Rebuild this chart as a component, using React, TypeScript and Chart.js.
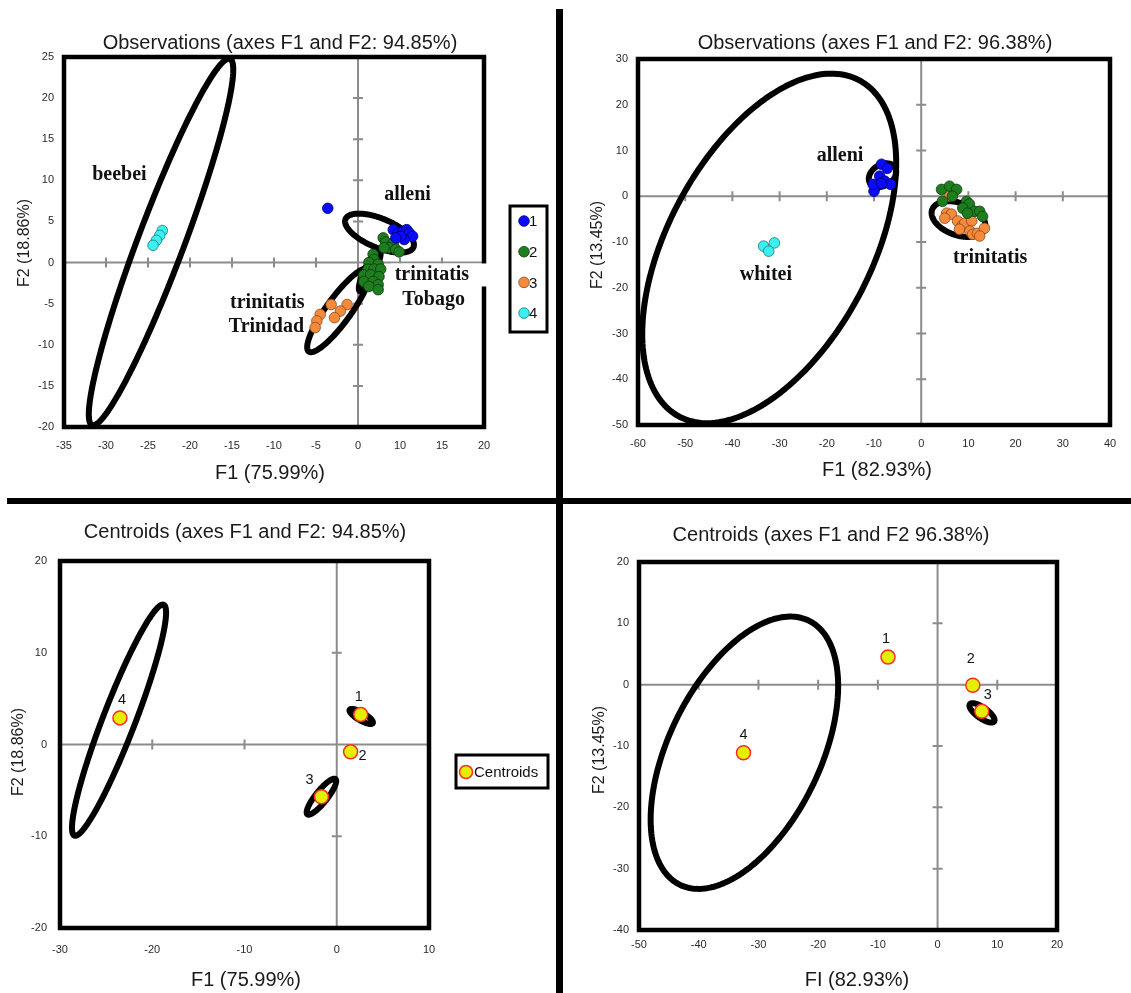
import React, { useEffect, useRef } from "react";
import { Chart, registerables } from "chart.js";

Chart.register(...registerables);

type XY = [number, number];
// ellipse: centre x, centre y, half-extent x, half-extent y, correlation
type Ell = [number, number, number, number, number];

const SANS = '"Liberation Sans", Arial, Helvetica, sans-serif';
const SERIF = '"Liberation Serif", "Times New Roman", serif';

// ---------------- shared categories ----------------
const groupNames = ["1", "2", "3", "4"];
const centroidNames = ["1", "2", "3", "4"];

// ---------------- Panel A : observations (F1 75.99 %, F2 18.86 %) ----------------
const obsA_g1: XY[] = [
  [-3.6, 6.6], [4.2, 4.0], [4.8, 3.6], [5.4, 3.8], [5.8, 4.0], [6.1, 3.6],
  [6.5, 3.2], [5.5, 2.8], [5.1, 3.2], [4.5, 3.0],
];
const obsA_g2: XY[] = [
  [3.0, 3.0], [3.3, 2.5], [4.2, 2.4], [3.7, 1.8], [4.5, 1.6], [4.9, 1.3], [3.1, 1.8],
  [1.8, 1.0], [1.9, 0.4], [1.3, 0.0], [2.4, -0.2], [1.2, -0.8], [1.9, -0.8], [2.7, -0.8],
  [0.7, -1.5], [1.5, -1.5], [2.5, -1.7], [0.7, -2.3], [1.8, -2.3], [2.4, -2.7],
  [1.3, -2.9], [2.4, -3.3],
];
const obsA_g3: XY[] = [
  [-3.2, -5.1], [-1.3, -5.1], [-2.1, -5.9], [-2.8, -6.7], [-4.5, -6.3], [-4.9, -7.1], [-5.1, -7.9],
];
const obsA_g4: XY[] = [[-23.3, 3.9], [-23.6, 3.3], [-24.0, 2.7], [-24.4, 2.1]];
const ellA: Ell[] = [
  [-23.45, 2.5, 8.6, 22.3, 0.94],
  [2.56, 3.58, 4.1, 2.37, -0.6],
  [1.4, -1.0, 1.3, 2.5, 0.85],
  [-2.3, -5.8, 3.75, 5.1, 0.88],
];
const xTicksA = [-35, -30, -25, -20, -15, -10, -5, 0, 5, 10, 15];
const xTickLabelsA = ["-35", "-30", "-25", "-20", "-15", "-10", "-5", "0", "10", "15", "20"];
const yTicksA = [-20, -15, -10, -5, 0, 5, 10, 15, 20, 25];
const yTickLabelsA = ["-20", "-15", "-10", "-5", "0", "5", "10", "15", "20", "25"];

// ---------------- Panel B : observations (F1 82.93 %, F2 13.45 %) ----------------
const obsB_g1: XY[] = [
  [-8.4, 7.0], [-7.2, 6.1], [-8.8, 4.4], [-7.7, 3.3], [-6.5, 2.6], [-9.5, 2.2],
  [-10.0, 1.1], [-10.2, 2.6], [-8.4, 2.8],
];
const obsB_g2: XY[] = [
  [4.3, 1.5], [6.0, 2.2], [7.5, 1.5], [4.5, -1.1], [6.6, 0.0], [9.6, -1.1],
  [10.2, -1.7], [8.8, -2.6], [11.3, -3.3], [12.4, -3.3], [13.0, -4.4], [9.8, -3.7],
];
const obsB_g3: XY[] = [
  [6.0, 0.0], [5.4, -3.7], [6.4, -3.9], [7.7, -5.4], [8.6, -6.5], [9.2, -5.9], [10.7, -5.4],
  [8.1, -7.2], [10.3, -7.6], [10.9, -8.3], [11.9, -8.1], [13.4, -7.0], [12.4, -8.7], [5.0, -4.8],
];
const obsB_g4: XY[] = [[-33.4, -10.9], [-31.1, -10.2], [-32.3, -12.0]];
const ellB: Ell[] = [
  [-32.2, -11.4, 26.9, 38.2, 0.49],
  [-8.2, 4.6, 2.9, 2.6, 0.3],
  [7.9, -5.0, 5.7, 3.9, -0.35],
];
const xTicksB = [-60, -50, -40, -30, -20, -10, 0, 10, 20, 30, 40];
const yTicksB = [-50, -40, -30, -20, -10, 0, 10, 20, 30];

// ---------------- Panel C : centroids (F1 75.99 %, F2 18.86 %) ----------------
const centC: XY[] = [[2.6, 3.26], [1.5, -0.8], [-1.66, -5.7], [-23.5, 2.9]];
const ellC: Ell[] = [
  [-23.6, 2.65, 5.1, 12.6, 0.93],
  [2.65, 3.06, 1.27, 0.82, -0.8],
  [-1.66, -5.69, 1.6, 1.96, 0.87],
];
const xTicksC = [-30, -20, -10, 0, 10];
const yTicksC = [-20, -10, 0, 10, 20];

// ---------------- Panel D : centroids (F1 82.93 %, F2 13.45 %) ----------------
const centD: XY[] = [[-8.3, 4.5], [5.9, -0.1], [7.4, -4.35], [-32.5, -11.1]];
const ellD: Ell[] = [
  [-32.35, -11.1, 15.7, 22.2, 0.49],
  [7.44, -4.6, 2.1, 1.58, -0.75],
];
const xTicksD = [-50, -40, -30, -20, -10, 0, 10, 20];
const yTicksD = [-40, -30, -20, -10, 0, 10, 20];

// ---------------- styles ----------------
const groupFill = ["#0a0aff", "#1e7d1e", "#f58a3c", "#3cf0f0"];
const groupStroke = ["#00006a", "#0b3d0b", "#8a4a1a", "#1a7a7a"];
const centroidFill = "#e4ef00";
const centroidStroke = "#ff2a2a";

interface Series { label: string; pts: XY[]; fill: string; stroke: string; radius: number; bw: number }
interface Note { text: string; at: XY; bg?: boolean }
interface PanelCfg {
  box: { x: number; y: number; w: number; h: number };
  pad: { left: number; top: number; right: number; bottom: number };
  xRange: [number, number];
  yRange: [number, number];
  xTicks: number[];
  yTicks: number[];
  xTickLabels: string[];
  yTickLabels: string[];
  xTickPad: number;
  yTickPad: number;
  title: string; titleAt: [number, number];
  xTitle: string; xTitleAt: [number, number];
  yTitle: string; yTitleAt: [number, number];
  series: Series[];
  ellipses: Ell[];
  notes: Note[];
  pointNames?: string[];
  pointNameOffsets?: [number, number][];
  legend?: { x: number; y: number; w: number; h: number; dotDx: number; firstDy: number; gap: number; textDx: number };
}

const str = (a: number[]) => a.map((v) => String(v));

const obsSeries = (groups: XY[][]): Series[] =>
  groups.map((pts, i) => ({
    label: groupNames[i], pts, fill: groupFill[i], stroke: groupStroke[i], radius: 5.3, bw: 0.8,
  }));

const centSeries = (pts: XY[]): Series[] => [
  { label: "Centroids", pts, fill: centroidFill, stroke: centroidStroke, radius: 7, bw: 1.5 },
];

const panels: PanelCfg[] = [
  {
    box: { x: 0, y: 0, w: 556, h: 497 },
    pad: { left: 24, top: 57, right: 72, bottom: 40 },
    xRange: [-35, 15], yRange: [-20, 25],
    xTicks: xTicksA, yTicks: yTicksA, xTickLabels: xTickLabelsA, yTickLabels: yTickLabelsA,
    xTickPad: 12, yTickPad: 10,
    title: "Observations (axes F1 and F2: 94.85%)", titleAt: [280, 43],
    xTitle: "F1 (75.99%)", xTitleAt: [270, 473],
    yTitle: "F2 (18.86%)", yTitleAt: [25, 243],
    series: obsSeries([obsA_g1, obsA_g2, obsA_g3, obsA_g4]),
    ellipses: ellA,
    notes: [
      { text: "beebei", at: [-28.4, 10.7] },
      { text: "alleni", at: [5.9, 8.25] },
      { text: "trinitatis", at: [8.8, -1.45], bg: true },
      { text: "Tobago", at: [9.0, -4.5] },
      { text: "trinitatis", at: [-10.8, -4.85] },
      { text: "Trinidad", at: [-10.9, -7.8] },
    ],
    legend: { x: 510, y: 206, w: 37, h: 126, dotDx: 14, firstDy: 15, gap: 30.7, textDx: 19 },
  },
  {
    box: { x: 563, y: 0, w: 568, h: 497 },
    pad: { left: 35, top: 59, right: 21, bottom: 42 },
    xRange: [-60, 40], yRange: [-50, 30],
    xTicks: xTicksB, yTicks: yTicksB, xTickLabels: str(xTicksB), yTickLabels: str(yTicksB),
    xTickPad: 12, yTickPad: 10,
    title: "Observations (axes F1 and F2: 96.38%)", titleAt: [312, 43],
    xTitle: "F1 (82.93%)", xTitleAt: [314, 470],
    yTitle: "F2 (13.45%)", yTitleAt: [35, 245],
    series: obsSeries([obsB_g1, obsB_g2, obsB_g3, obsB_g4]),
    ellipses: ellB,
    notes: [
      { text: "alleni", at: [-17.2, 8.9] },
      { text: "whitei", at: [-32.9, -17.2] },
      { text: "trinitatis", at: [14.6, -13.4] },
    ],
  },
  {
    box: { x: 0, y: 503, w: 556, h: 490 },
    pad: { left: 20, top: 58, right: 127, bottom: 35 },
    xRange: [-30, 10], yRange: [-20, 20],
    xTicks: xTicksC, yTicks: yTicksC, xTickLabels: str(xTicksC), yTickLabels: str(yTicksC),
    xTickPad: 15, yTickPad: 13,
    title: "Centroids (axes F1 and F2: 94.85%)", titleAt: [245, 29],
    xTitle: "F1 (75.99%)", xTitleAt: [246, 477],
    yTitle: "F2 (18.86%)", yTitleAt: [19, 249],
    series: centSeries(centC),
    ellipses: ellC,
    notes: [],
    pointNames: centroidNames,
    pointNameOffsets: [[-2, -18], [12, 4], [-12, -17], [2, -18]],
    legend: { x: 456, y: 252, w: 92, h: 33, dotDx: 10, firstDy: 17, gap: 0, textDx: 18 },
  },
  {
    box: { x: 563, y: 503, w: 568, h: 490 },
    pad: { left: 36, top: 59, right: 74, bottom: 33 },
    xRange: [-50, 20], yRange: [-40, 20],
    xTicks: xTicksD, yTicks: yTicksD, xTickLabels: str(xTicksD), yTickLabels: str(yTicksD),
    xTickPad: 8, yTickPad: 10,
    title: "Centroids (axes F1 and F2 96.38%)", titleAt: [268, 32],
    xTitle: "FI (82.93%)", xTitleAt: [294, 477],
    yTitle: "F2 (13.45%)", yTitleAt: [37, 247],
    series: centSeries(centD),
    ellipses: ellD,
    notes: [],
    pointNames: centroidNames,
    pointNameOffsets: [[-2, -18], [-2, -26], [6, -16], [0, -18]],
  },
];

function makeConfig(cfg: PanelCfg): any {
  const deco = {
    id: "deco",
    beforeDatasetsDraw(chart: any) {
      const { ctx, chartArea: ca } = chart;
      const xs = chart.scales.x;
      const ys = chart.scales.y;
      const x0 = xs.getPixelForValue(0);
      const y0 = ys.getPixelForValue(0);
      ctx.save();
      ctx.strokeStyle = "#8c8c8c";
      ctx.lineWidth = 2;
      ctx.beginPath();
      ctx.moveTo(ca.left, y0);
      ctx.lineTo(ca.right, y0);
      ctx.moveTo(x0, ca.top);
      ctx.lineTo(x0, ca.bottom);
      cfg.xTicks.forEach((v) => {
        if (v === 0 || v <= cfg.xRange[0] || v >= cfg.xRange[1]) return;
        const p = xs.getPixelForValue(v);
        ctx.moveTo(p, y0 - 5);
        ctx.lineTo(p, y0 + 5);
      });
      cfg.yTicks.forEach((v) => {
        if (v === 0 || v <= cfg.yRange[0] || v >= cfg.yRange[1]) return;
        const p = ys.getPixelForValue(v);
        ctx.moveTo(x0 - 5, p);
        ctx.lineTo(x0 + 5, p);
      });
      ctx.stroke();

      ctx.beginPath();
      ctx.rect(ca.left, ca.top, ca.right - ca.left, ca.bottom - ca.top);
      ctx.clip();
      ctx.strokeStyle = "#000";
      ctx.lineWidth = 6;
      ctx.lineJoin = "round";
      cfg.ellipses.forEach(([cx, cy, sx, sy, r]) => {
        const k = Math.sqrt(1 - r * r);
        ctx.beginPath();
        const n = 200;
        for (let i = 0; i <= n; i++) {
          const t = (i / n) * Math.PI * 2;
          const dx = cx + sx * Math.cos(t);
          const dy = cy + sy * (r * Math.cos(t) + k * Math.sin(t));
          const px = xs.getPixelForValue(dx);
          const py = ys.getPixelForValue(dy);
          if (i === 0) ctx.moveTo(px, py);
          else ctx.lineTo(px, py);
        }
        ctx.closePath();
        ctx.stroke();
      });
      ctx.restore();
    },
    afterDatasetsDraw(chart: any) {
      const { ctx, chartArea: ca } = chart;
      const xs = chart.scales.x;
      const ys = chart.scales.y;
      ctx.save();
      // plot frame
      ctx.strokeStyle = "#000";
      ctx.lineWidth = 4.5;
      ctx.strokeRect(ca.left, ca.top, ca.right - ca.left, ca.bottom - ca.top);

      // species annotations
      ctx.font = `bold 20px ${SERIF}`;
      ctx.textAlign = "center";
      ctx.textBaseline = "middle";
      cfg.notes.forEach((n) => {
        const px = xs.getPixelForValue(n.at[0]);
        const py = ys.getPixelForValue(n.at[1]);
        if (n.bg) {
          const w = ctx.measureText(n.text).width;
          const left = px - w / 2 - 4;
          ctx.fillStyle = "#fff";
          ctx.fillRect(left, py - 11, ca.right + 3 - left, 23);
        }
        ctx.fillStyle = "#111";
        ctx.fillText(n.text, px, py);
      });

      // centroid numbers
      if (cfg.pointNames && cfg.pointNameOffsets) {
        ctx.font = `14.5px ${SANS}`;
        ctx.fillStyle = "#111";
        const pts = cfg.series[0].pts;
        pts.forEach((p, i) => {
          const px = xs.getPixelForValue(p[0]);
          const py = ys.getPixelForValue(p[1]);
          const off = cfg.pointNameOffsets![i];
          ctx.fillText(cfg.pointNames![i], px + off[0], py + off[1]);
        });
      }

      // legend
      if (cfg.legend) {
        const L = cfg.legend;
        ctx.fillStyle = "#fff";
        ctx.fillRect(L.x, L.y, L.w, L.h);
        ctx.strokeStyle = "#000";
        ctx.lineWidth = 3;
        ctx.strokeRect(L.x, L.y, L.w, L.h);
        ctx.font = `15px ${SANS}`;
        ctx.textAlign = "left";
        ctx.textBaseline = "middle";
        cfg.series.forEach((s, i) => {
          const cy = L.y + L.firstDy + i * L.gap;
          ctx.beginPath();
          ctx.arc(L.x + L.dotDx, cy, Math.min(s.radius, 6.5), 0, Math.PI * 2);
          ctx.fillStyle = s.fill;
          ctx.fill();
          ctx.lineWidth = s.bw;
          ctx.strokeStyle = s.stroke;
          ctx.stroke();
          ctx.fillStyle = "#111";
          ctx.fillText(s.label, L.x + L.textDx, cy + 1);
        });
      }

      // titles
      ctx.fillStyle = "#1a1a1a";
      ctx.textAlign = "center";
      ctx.textBaseline = "middle";
      ctx.font = `20px ${SANS}`;
      ctx.fillText(cfg.title, cfg.titleAt[0], cfg.titleAt[1]);
      ctx.fillText(cfg.xTitle, cfg.xTitleAt[0], cfg.xTitleAt[1]);
      ctx.save();
      ctx.translate(cfg.yTitleAt[0], cfg.yTitleAt[1]);
      ctx.rotate(-Math.PI / 2);
      ctx.font = `16px ${SANS}`;
      ctx.fillText(cfg.yTitle, 0, 0);
      ctx.restore();
      ctx.restore();
    },
  };

  const tickFont = { family: SANS, size: 11 };
  return {
    type: "scatter",
    data: {
      datasets: cfg.series.map((s) => ({
        label: s.label,
        data: s.pts.map(([x, y]) => ({ x, y })),
        backgroundColor: s.fill,
        borderColor: s.stroke,
        borderWidth: s.bw,
        pointRadius: s.radius,
        pointHoverRadius: s.radius,
      })),
    },
    options: {
      responsive: false,
      maintainAspectRatio: false,
      animation: false,
      events: [],
      layout: { padding: cfg.pad },
      plugins: {
        legend: { display: false },
        title: { display: false },
        tooltip: { enabled: false },
      },
      scales: {
        x: {
          type: "linear",
          position: "bottom",
          min: cfg.xRange[0],
          max: cfg.xRange[1],
          afterBuildTicks: (s: any) => {
            s.ticks = cfg.xTicks.map((v) => ({ value: v }));
          },
          afterFit: (s: any) => {
            s.height = 30;
          },
          grid: { display: false, drawTicks: false },
          border: { display: false },
          ticks: {
            autoSkip: false,
            maxRotation: 0,
            minRotation: 0,
            padding: cfg.xTickPad,
            font: tickFont,
            color: "#2a2a2a",
            callback: (_v: any, i: number) => cfg.xTickLabels[i],
          },
        },
        y: {
          type: "linear",
          position: "left",
          min: cfg.yRange[0],
          max: cfg.yRange[1],
          afterBuildTicks: (s: any) => {
            s.ticks = cfg.yTicks.map((v) => ({ value: v }));
          },
          afterFit: (s: any) => {
            s.width = 40;
          },
          grid: { display: false, drawTicks: false },
          border: { display: false },
          ticks: {
            autoSkip: false,
            padding: cfg.yTickPad,
            font: tickFont,
            color: "#2a2a2a",
            callback: (_v: any, i: number) => cfg.yTickLabels[i],
          },
        },
      },
    },
    plugins: [deco],
  };
}

function Panel({ cfg }: { cfg: PanelCfg }) {
  const ref = useRef<HTMLCanvasElement>(null);
  useEffect(() => {
    if (!ref.current) return;
    const chart = new Chart(ref.current, makeConfig(cfg));
    return () => chart.destroy();
  }, [cfg]);
  return (
    <canvas
      ref={ref}
      width={cfg.box.w}
      height={cfg.box.h}
      style={{ position: "absolute", left: cfg.box.x, top: cfg.box.y, width: cfg.box.w, height: cfg.box.h }}
    />
  );
}

export default function App() {
  return (
    <div
      style={{
        position: "fixed",
        left: 0,
        top: 0,
        width: 1131,
        height: 993,
        background: "#fff",
        overflow: "hidden",
      }}
    >
      {panels.map((p, i) => (
        <Panel key={i} cfg={p} />
      ))}
      <div style={{ position: "absolute", left: 556, top: 9, width: 7, height: 984, background: "#000" }} />
      <div style={{ position: "absolute", left: 7, top: 498, width: 1124, height: 6, background: "#000" }} />
    </div>
  );
}
